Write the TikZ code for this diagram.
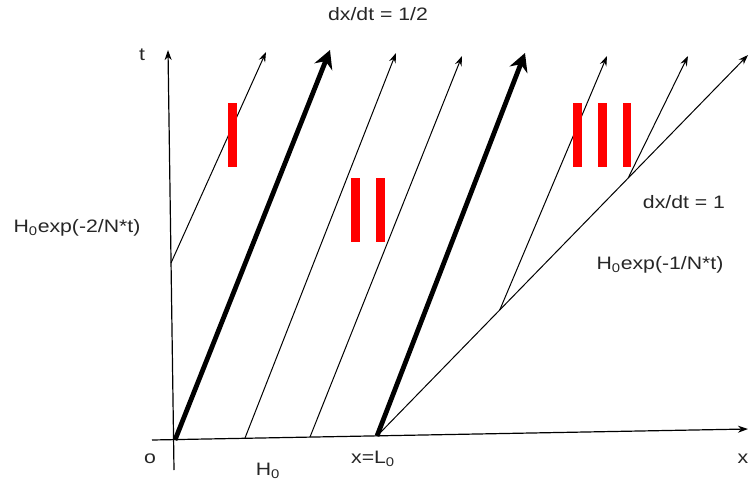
\documentclass[tikz,border=0pt]{standalone}
\usepackage{fontspec}
\usepackage{graphicx}
\setmainfont{Liberation Sans}
\usetikzlibrary{arrows.meta,calc}
\newcommand{\hs}[1]{\scalebox{1.18}[1]{#1}}
\begin{document}
\begin{tikzpicture}[x=1pt,y=-1pt,
  thinline/.style={line width=1pt,-{Stealth[length=10pt,width=7pt,inset=3.5pt]}},
  thickline/.style={line width=4.8pt,-{Stealth[length=18pt,width=19pt,inset=6pt]}},
  axisline/.style={line width=1.2pt},
  redbar/.style={fill=red,draw=none},
  lbl/.style={font=\fontsize{18}{21}\selectfont,text=black!85,inner sep=0pt}]
\useasboundingbox (0,0) rectangle (749,487);
% axes
\coordinate (tbot) at (174,470);
\coordinate (ttop) at (168,50);
\coordinate (xleft) at (152,440);
\coordinate (xright) at (748,429);
\draw[axisline,-{Stealth[length=10pt,width=7pt,inset=3pt]}] (tbot) -- (ttop);
\draw[axisline,-{Stealth[length=10pt,width=7pt,inset=3pt]}] (xleft) -- (xright);
% characteristic lines
\coordinate (O) at (175,440);
\coordinate (thick1tip) at (330,50);
\coordinate (Astart) at (171,263);
\coordinate (Atip) at (266,52);
\coordinate (Bstart) at (245,438);
\coordinate (Btip) at (396,53);
\coordinate (Cstart) at (310,437);
\coordinate (Ctip) at (462,56);
\coordinate (L0) at (377,436);
\coordinate (thick2tip) at (525,53);
\coordinate (fasttip) at (748,55);
\coordinate (br1) at ($(L0)!0.331!(fasttip)$);
\coordinate (br2) at ($(L0)!0.677!(fasttip)$);
\coordinate (Dtip) at (607,56);
\coordinate (Etip) at (688,56);
\draw[thickline] (O) -- (thick1tip);
\draw[thickline] (L0) -- (thick2tip);
\draw[thinline] (Astart) -- (Atip);
\draw[thinline] (Bstart) -- (Btip);
\draw[thinline] (Cstart) -- (Ctip);
\draw[thinline] (L0) -- (fasttip);
\draw[thinline] (br1) -- (Dtip);
\draw[thinline] (br2) -- (Etip);
% red bars
\fill[redbar] (228,103) rectangle (237,167);
\fill[redbar] (351,178) rectangle (360,242);
\fill[redbar] (376,178) rectangle (385,242);
\fill[redbar] (573,103) rectangle (582,167);
\fill[redbar] (598,103) rectangle (607,167);
\fill[redbar] (623,103) rectangle (631,167);
% labels
\node[lbl] (tl) at (142,55) {\hs{t}};
\node[lbl] (top) at (378,14) {\hs{dx/dt = 1/2}};
\node[lbl] (left) at (77,228) {\hs{H\textsubscript{0}exp(-2/N*t)}};
\node[lbl] (dx1) at (684,202) {\hs{dx/dt = 1}};
\node[lbl] (right) at (660,265) {\hs{H\textsubscript{0}exp(-1/N*t)}};
\node[lbl] (ol) at (150,459) {\hs{o}};
\node[lbl] (H0) at (268,471) {\hs{H\textsubscript{0}}};
\node[lbl] (L0l) at (373,459) {\hs{x=L\textsubscript{0}}};
\node[lbl] (xl) at (743,459) {\hs{x}};
\end{tikzpicture}
\end{document}
